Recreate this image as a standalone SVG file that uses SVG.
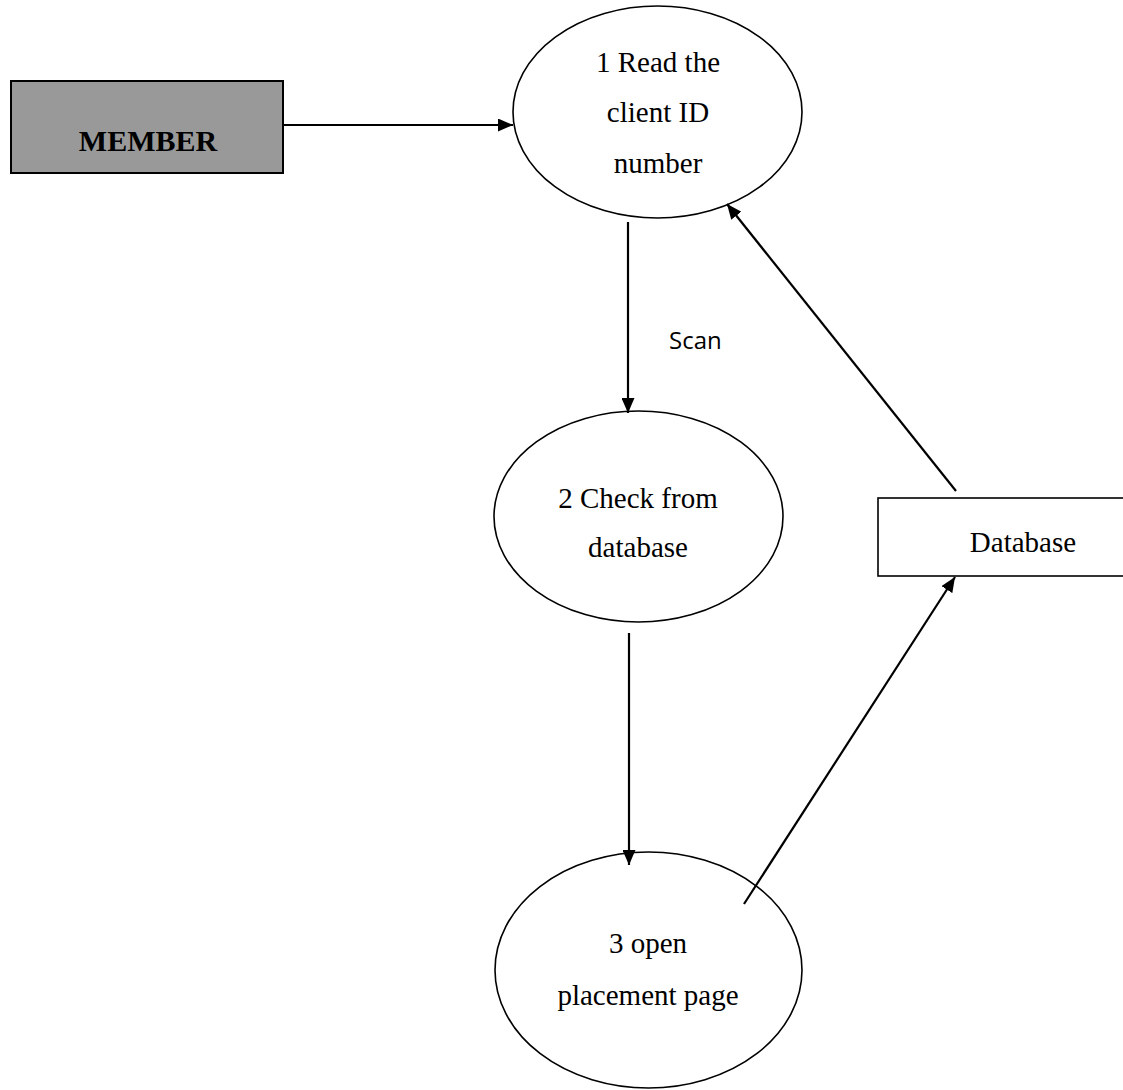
<svg xmlns="http://www.w3.org/2000/svg" width="1123" height="1090" viewBox="0 0 1123 1090">
<style>
.t{font-family:"Liberation Serif","Times New Roman",serif;font-size:29px;fill:#000;text-anchor:middle}
.b{font-weight:bold;font-size:30px}
.s{font-family:"Open Sans","Liberation Sans",sans-serif;font-size:24px;fill:#000}
.proc{fill:#fff;stroke:#000;stroke-width:1.6}
.ln{stroke:#000;stroke-width:2.2;fill:none;marker-end:url(#ah)}
</style>
<defs>
<marker id="ah" viewBox="0 0 15 13" refX="15" refY="6.5" markerWidth="15" markerHeight="13" markerUnits="userSpaceOnUse" orient="auto">
<path d="M0,0 L15,6.5 L0,13 z" fill="#000"/>
</marker>
</defs>
<rect width="1123" height="1090" fill="#fff"/>
<g id="member">
<rect x="11" y="81" width="272" height="92" fill="#999999" stroke="#000" stroke-width="2"/>
<text class="t b" x="148" y="151">MEMBER</text>
</g>
<g id="p1">
<ellipse class="proc" cx="657.5" cy="112" rx="144.5" ry="106"/>
<text class="t" x="658" y="72">1 Read the</text>
<text class="t" x="658" y="122">client ID</text>
<text class="t" x="658" y="173">number</text>
</g>
<g id="scan-label">
<text class="s" x="669" y="349">Scan</text>
</g>
<g id="p2">
<ellipse class="proc" cx="638.5" cy="516.5" rx="144.5" ry="105.5"/>
<text class="t" x="638" y="508">2 Check from</text>
<text class="t" x="638" y="557">database</text>
</g>
<g id="p3">
<ellipse class="proc" cx="648.5" cy="970" rx="153.5" ry="118"/>
<text class="t" x="648" y="953">3 open</text>
<text class="t" x="648" y="1005">placement page</text>
</g>
<g id="database">
<rect x="878" y="498" width="260" height="78" fill="#fff" stroke="#000" stroke-width="1.6"/>
<text class="t" x="1023" y="552">Database</text>
</g>
<g id="connectors">
<line class="ln" x1="284" y1="125" x2="513" y2="125"/>
<line class="ln" x1="628" y1="222" x2="628" y2="413"/>
<line class="ln" x1="629" y1="633" x2="629" y2="865"/>
<line class="ln" x1="744" y1="904" x2="955" y2="577"/>
<line class="ln" x1="956" y1="491" x2="727" y2="204"/>
</g>
</svg>
